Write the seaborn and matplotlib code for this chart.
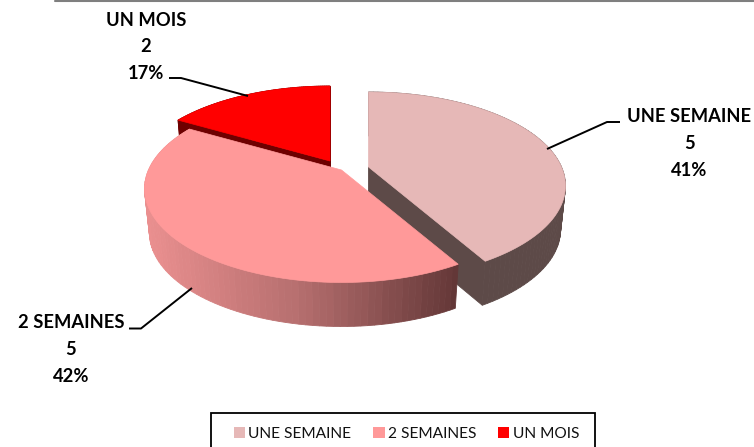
import numpy as np
import seaborn as sns
import matplotlib
matplotlib.use("Agg")
import matplotlib.pyplot as plt
from matplotlib.patches import Patch, Rectangle

categories = ["UNE SEMAINE", "2 SEMAINES", "UN MOIS"]
values = [5, 5, 2]
percents = ["41%", "42%", "17%"]

top_colors = ["#e6b8b7", "#ff9999", "#ff0000"]
side_colors = ["#5d4a48", "#ff9999", "#6e0000"]

sns.set_theme(style="white")
plt.rcParams["font.family"] = ["Lato", "DejaVu Sans"]

# look of the tilted pie, in pixels
apexes = [(368.5, 167), (341.5, 170), (330, 161)]
rx, ry, persp = 193, 90, 0.2
depth, shrink = 44, 0.975


def project(theta, apex):
    # theta in degrees, clockwise from the top of the pie
    t = np.radians(theta)
    s = 1 / (1 + persp * np.cos(t))
    return apex[0] + rx * np.sin(t) * s, apex[1] - ry * np.cos(t) * s


def lower(x, y, apex):
    return apex[0] + (x - apex[0]) * shrink, y + depth


def quad(ax, xs, ys, color, z):
    ax.fill(xs, ys, color=color, lw=0.6, zorder=z)


fig = plt.figure(figsize=(7.54, 4.47), dpi=100)
ax = fig.add_axes([0, 0, 1, 1])
ax.set_xlim(0, 754)
ax.set_ylim(447, 0)
ax.axis("off")

edges = np.concatenate([[0], np.cumsum(values)]) / sum(values) * 360
gradient = sns.blend_palette(["#ea8f8f", "#b56e6e", "#633737"], 64)

# drawing order: back slices first, 2 SEMAINES lies over the others
for z, i in enumerate([2, 0, 1]):
    apex = apexes[i]
    th = np.linspace(edges[i], edges[i + 1], 90)
    x, y = project(th, apex)
    bx, by = lower(x, y, apex)
    base = 10 * z

    # cut faces
    if i != 1:
        for k in [0, -1]:
            quad(ax, [apex[0], x[k], bx[k], apex[0]],
                 [apex[1], y[k], by[k], apex[1] + depth], side_colors[i], base)

    # outer wall
    for k in range(len(th) - 1):
        if i == 1:
            pos = (x[k] - x.min()) / (x.max() - x.min())
            c = gradient[int(pos * 63)]
        else:
            c = side_colors[i]
        quad(ax, [x[k], x[k + 1], bx[k + 1], bx[k]],
             [y[k], y[k + 1], by[k + 1], by[k]], c, base + 1)

    # top face
    ax.fill(np.r_[apex[0], x], np.r_[apex[1], y], color=top_colors[i], lw=0.5, zorder=base + 2)

# leader lines
leaders = [([620, 607, 547], [122, 122, 149]),
           ([129, 141, 192], [328.5, 328.5, 288]),
           ([169, 181, 248], [78, 78, 96])]
for lx, ly in leaders:
    ax.plot(lx, ly, color="black", lw=1.4, zorder=40, solid_capstyle="butt")

# data labels
label_pos = [(689.5, 117), (71, 323), (146, 20)]
for i, (lx, ly) in enumerate(label_pos):
    lines = [categories[i], str(values[i]), percents[i]]
    for j, txt in enumerate(lines):
        ax.text(lx, ly + j * 26.7, txt, ha="center", va="center", fontsize=13.2,
                fontweight="bold", color="black", zorder=41)

# rule at the very top
ax.plot([55, 754], [0.5, 0.5], color="#7f7f7f", lw=1.5, clip_on=False)

# legend box runs off the bottom of the picture
ax.add_patch(Rectangle((210.5, 413), 384.5, 50, facecolor="white", edgecolor="black",
                       lw=1.3, zorder=49))
handles = [Patch(facecolor=c, edgecolor="none") for c in top_colors]
leg = ax.legend(handles, categories, ncol=3, loc="upper left",
                bbox_to_anchor=(234, 427), bbox_transform=ax.transData,
                frameon=False, fontsize=11.2, handlelength=0.72, handleheight=0.72,
                handletextpad=0.2, columnspacing=1.42, borderpad=0,
                borderaxespad=0, labelcolor="#111111")
leg.set_zorder(50)

fig.savefig("out.png", dpi=100)
